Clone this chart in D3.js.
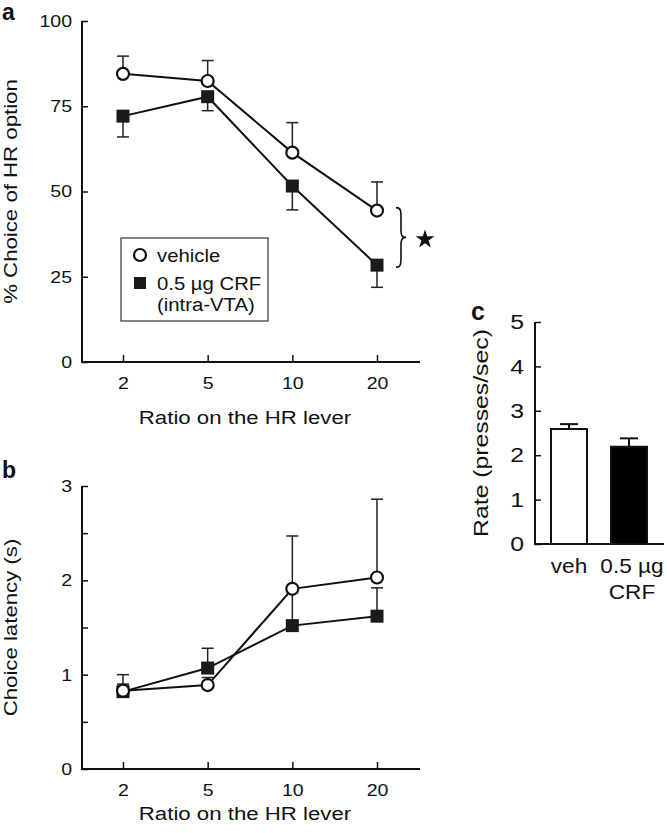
<!DOCTYPE html>
<html><head><meta charset="utf-8">
<script src="https://cdn.jsdelivr.net/npm/d3@7"></script>
<style>body{margin:0;background:#fff}svg{display:block}text{font-family:"Liberation Sans",Arial,sans-serif;fill:#111}</style>
</head><body>
<script>
const ratios = ["2","5","10","20"];
// Panel a: % choice of HR option
const choiceVehicle = [84.5, 82.4, 61.4, 44.4];
const choiceVehicleErr = [5.2, 6.0, 8.8, 8.4];
const choiceCRF = [72.1, 77.8, 51.6, 28.4];
const choiceCRFErr = [6.1, 4.1, 7.0, 6.5];
const choiceTicks = [0, 25, 50, 75, 100];
// Panel b: choice latency (s)
const latVehicle = [0.83, 0.89, 1.91, 2.03];
const latVehicleErr = [0.17, 0.08, 0.56, 0.83];
const latCRF = [0.82, 1.07, 1.52, 1.62];
const latCRFErr = [0.08, 0.21, 0.35, 0.30];
const latTicks = [0, 0.5, 1, 1.5, 2, 2.5, 3];
// Panel c: rate
const rateGroups = ["veh", "CRF"];
const rateLabels = [["veh"], ["0.5 µg", "CRF"]];
const rateValues = [2.59, 2.19];
const rateErr = [0.11, 0.19];
const rateTicks = [0, 1, 2, 3, 4, 5];

const svg = d3.select("body").append("svg").attr("width", 667).attr("height", 833);

// horizontally stretch text (reference glyphs are wider than Arial)
function stretch(sel, k) {
  sel.each(function () {
    const t = d3.select(this);
    const x = +(t.attr("x") || 0);
    const tr = t.attr("transform") || "";
    t.attr("x", x / k).attr("transform", tr + ` scale(${k},1)`);
  });
}

function linePanel(g, opt) {
  const x = d3.scalePoint().domain(ratios).range([123, 377]);
  const y = d3.scaleLinear().domain(opt.domain).range(opt.yRange);
  const x0 = 82, x1 = 420;
  const ya = g.append("g").attr("transform", `translate(${x0},0)`)
    .call(d3.axisLeft(y).tickValues(opt.ticks).tickSizeInner(-6).tickSizeOuter(0).tickPadding(10)
      .tickFormat(opt.fmt));
  ya.select(".domain").remove();
  ya.selectAll("line").attr("stroke", "#111").attr("stroke-width", 1.5);
  ya.selectAll("text").attr("font-size", 17).attr("fill", "#111").call(stretch, 1.15);
  const xa = g.append("g").attr("transform", `translate(0,${y(opt.domain[0])})`)
    .call(d3.axisBottom(x).tickSizeInner(-7).tickSizeOuter(0).tickPadding(15));
  xa.select(".domain").remove();
  xa.selectAll("line").attr("stroke", "#111").attr("stroke-width", 1.5);
  xa.selectAll("text").attr("font-size", 17).attr("fill", "#111").call(stretch, 1.15);
  g.append("line").attr("x1", x0).attr("x2", x0).attr("y1", y(opt.domain[1])).attr("y2", y(opt.domain[0]))
    .attr("stroke", "#111").attr("stroke-width", 2);
  g.append("line").attr("x1", x0 - 1).attr("x2", x1).attr("y1", y(opt.domain[0])).attr("y2", y(opt.domain[0]))
    .attr("stroke", "#111").attr("stroke-width", 2);
  g.append("text").attr("x", 245).attr("y", y(opt.domain[0]) + opt.xTitleOff).attr("text-anchor", "middle")
    .attr("font-size", 19).text("Ratio on the HR lever").call(stretch, 1.17);
  const yc = (y(opt.domain[0]) + y(opt.domain[1])) / 2;
  g.append("text").attr("transform", `translate(${opt.titleX},${yc}) rotate(-90)`).attr("text-anchor", "middle")
    .attr("font-size", 19).text(opt.yTitle).call(stretch, 1.17);
  g.append("text").attr("x", 2).attr("y", opt.labelY).attr("font-size", 23).attr("font-weight", "bold").text(opt.label);

  const series = [
    {v: opt.crf, e: opt.crfErr, dir: opt.crfDir, type: "sq"},
    {v: opt.veh, e: opt.vehErr, dir: opt.vehDir, type: "ci"}
  ];
  series.forEach(s => {
    const eg = g.append("g");
    ratios.forEach((r, i) => {
      const end = s.v[i] + s.dir * s.e[i];
      eg.append("line").attr("x1", x(r)).attr("x2", x(r)).attr("y1", y(s.v[i])).attr("y2", y(end))
        .attr("stroke", "#222").attr("stroke-width", 1.5);
      eg.append("line").attr("x1", x(r) - 6).attr("x2", x(r) + 6).attr("y1", y(end)).attr("y2", y(end))
        .attr("stroke", "#222").attr("stroke-width", 1.5);
    });
  });
  const line = d3.line().x((d, i) => x(ratios[i])).y(d => y(d));
  series.forEach(s => {
    g.append("path").attr("d", line(s.v)).attr("fill", "none").attr("stroke", "#111").attr("stroke-width", 2);
  });
  series.forEach(s => {
    if (s.type === "sq") {
      g.selectAll(null).data(s.v).enter().append("rect")
        .attr("x", (d, i) => x(ratios[i]) - 6.5).attr("y", d => y(d) - 6.5)
        .attr("width", 13).attr("height", 13).attr("fill", "#1a1a1a");
    } else {
      g.selectAll(null).data(s.v).enter().append("circle")
        .attr("cx", (d, i) => x(ratios[i])).attr("cy", d => y(d)).attr("r", 6)
        .attr("fill", "#fff").attr("stroke", "#111").attr("stroke-width", 2.2);
    }
  });
  return {x, y};
}

// Panel a
const A = linePanel(svg.append("g"), {
  domain: [0, 100], yRange: [362, 21], ticks: choiceTicks, fmt: d3.format("d"),
  veh: choiceVehicle, vehErr: choiceVehicleErr, vehDir: 1,
  crf: choiceCRF, crfErr: choiceCRFErr, crfDir: -1,
  yTitle: "% Choice of HR option", titleX: 17, label: "a", labelY: 20, xTitleOff: 62
});
// legend
const lg = svg.append("g");
lg.append("rect").attr("x", 121).attr("y", 238).attr("width", 147).attr("height", 83)
  .attr("fill", "#fff").attr("stroke", "#333").attr("stroke-width", 1.2);
lg.append("circle").attr("cx", 140).attr("cy", 255).attr("r", 6).attr("fill", "#fff").attr("stroke", "#111").attr("stroke-width", 2.2);
lg.append("rect").attr("x", 134).attr("y", 277).attr("width", 12).attr("height", 12).attr("fill", "#1a1a1a");
lg.append("text").attr("x", 157).attr("y", 262).attr("font-size", 19).text("vehicle").call(stretch, 1.07);
lg.append("text").attr("x", 157).attr("y", 290).attr("font-size", 19).text("0.5 µg CRF").call(stretch, 1.07);
lg.append("text").attr("x", 157).attr("y", 311).attr("font-size", 19).text("(intra-VTA)").call(stretch, 1.07);
// brace + star
{
  const yt = A.y(choiceVehicle[3]) - 3, yb = A.y(choiceCRF[3]) + 2, ym = (yt + yb) / 2, bx = 398;
  const p = d3.path();
  p.moveTo(bx - 2, yt);
  p.bezierCurveTo(bx + 3, yt, bx + 3, yt + 4, bx + 3, yt + 10);
  p.lineTo(bx + 3, ym - 6);
  p.bezierCurveTo(bx + 3, ym - 2, bx + 5, ym, bx + 8, ym);
  p.bezierCurveTo(bx + 5, ym, bx + 3, ym + 2, bx + 3, ym + 6);
  p.lineTo(bx + 3, yb - 10);
  p.bezierCurveTo(bx + 3, yb - 4, bx + 3, yb, bx - 2, yb);
  svg.append("path").attr("d", p.toString()).attr("fill", "none").attr("stroke", "#111").attr("stroke-width", 1.6);
  svg.append("path").attr("d", d3.symbol(d3.symbolStar, 110)()).attr("transform", `translate(425,${ym + 2})`).attr("fill", "#111");
}

// Panel b
linePanel(svg.append("g"), {
  domain: [0, 3], yRange: [769, 486], ticks: latTicks, fmt: d => Number.isInteger(d) ? d : "",
  veh: latVehicle, vehErr: latVehicleErr, vehDir: 1,
  crf: latCRF, crfErr: latCRFErr, crfDir: 1,
  yTitle: "Choice latency (s)", titleX: 17, label: "b", labelY: 478, xTitleOff: 51
});

// Panel c
{
  const g = svg.append("g");
  const y = d3.scaleLinear().domain([0, 5]).range([544, 322]);
  const x = d3.scaleBand().domain(rateGroups).range([551, 647]).paddingInner(0.4).paddingOuter(0);
  const ya = g.append("g").attr("transform", "translate(535,0)")
    .call(d3.axisLeft(y).tickValues(rateTicks).tickSizeInner(-6).tickSizeOuter(0).tickPadding(11).tickFormat(d3.format("d")));
  ya.select(".domain").remove();
  ya.selectAll("line").attr("stroke", "#111").attr("stroke-width", 1.5);
  ya.selectAll("text").attr("font-size", 21).attr("fill", "#111").call(stretch, 1.18);
  rateGroups.forEach((k, i) => {
    const cx = x(k) + x.bandwidth() / 2;
    g.append("line").attr("x1", cx).attr("x2", cx).attr("y1", y(rateValues[i])).attr("y2", y(rateValues[i] + rateErr[i]))
      .attr("stroke", "#111").attr("stroke-width", 2);
    g.append("line").attr("x1", cx - 9).attr("x2", cx + 9).attr("y1", y(rateValues[i] + rateErr[i])).attr("y2", y(rateValues[i] + rateErr[i]))
      .attr("stroke", "#111").attr("stroke-width", 2);
  });
  g.selectAll("rect.bar").data(rateValues).enter().append("rect")
    .attr("x", (d, i) => x(rateGroups[i])).attr("y", d => y(d))
    .attr("width", x.bandwidth()).attr("height", d => y(0) - y(d))
    .attr("fill", (d, i) => i === 0 ? "#fff" : "#000").attr("stroke", "#111").attr("stroke-width", 2);
  g.append("line").attr("x1", 535).attr("x2", 535).attr("y1", y(5)).attr("y2", y(0)).attr("stroke", "#111").attr("stroke-width", 2);
  g.append("line").attr("x1", 534).attr("x2", 664).attr("y1", y(0)).attr("y2", y(0)).attr("stroke", "#111").attr("stroke-width", 2);
  rateGroups.forEach((k, i) => {
    const cx = x(k) + x.bandwidth() / 2 + (i === 1 ? 3 : 0);
    rateLabels[i].forEach((t, j) => {
      g.append("text").attr("x", cx).attr("y", 573 + j * 26).attr("text-anchor", "middle").attr("font-size", 20).text(t).call(stretch, 1.13);
    });
  });
  g.append("text").attr("transform", `translate(488,${(y(0) + y(5)) / 2}) rotate(-90)`).attr("text-anchor", "middle")
    .attr("font-size", 21).text("Rate (presses/sec)").call(stretch, 1.18);
  g.append("text").attr("x", 471).attr("y", 320).attr("font-size", 25).attr("font-weight", "bold").text("c");
}
</script>
</body></html>
